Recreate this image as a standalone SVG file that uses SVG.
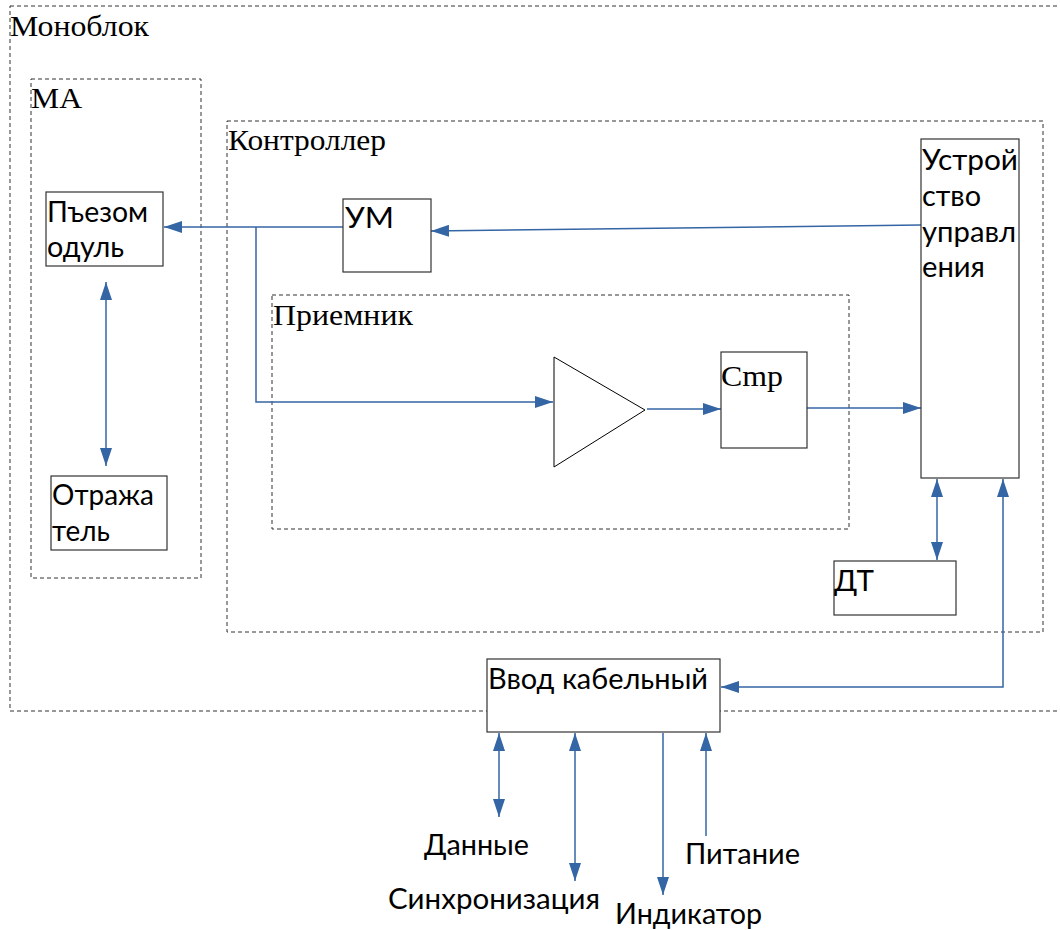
<svg xmlns="http://www.w3.org/2000/svg" width="1060" height="930" viewBox="0 0 1060 930">
<style>
.grp{fill:none;stroke:#333;stroke-width:1;stroke-dasharray:4,3}
.box{fill:#fff;stroke:#333;stroke-width:1.2}
.t{font-family:"Liberation Serif","DejaVu Serif",serif;font-size:30px;fill:#000}
.s{font-family:Lato,"Liberation Sans",sans-serif;font-size:28px;fill:#000}
.c{fill:none;stroke:#3465a4;stroke-width:1.5}
</style>
<defs>
<marker id="ah" viewBox="0 0 18 12" refX="18" refY="6" markerWidth="18" markerHeight="12" markerUnits="userSpaceOnUse" orient="auto-start-reverse">
<path d="M0,0 L18,6 L0,12 z" fill="#3465a4"/>
</marker>
</defs>
<rect width="1060" height="930" fill="#fff"/>
<g id="monoblok">
<rect class="grp" x="10" y="6" width="1060" height="705"/>
<text class="t" x="10" y="36" textLength="139" lengthAdjust="spacingAndGlyphs">Моноблок</text>
</g>
<g id="ma">
<rect class="grp" x="31" y="79" width="170" height="499"/>
<text class="t" x="31" y="108" textLength="51" lengthAdjust="spacingAndGlyphs">МА</text>
</g>
<g id="controller">
<rect class="grp" x="227" y="121" width="816" height="511"/>
<text class="t" x="228" y="150" textLength="158" lengthAdjust="spacingAndGlyphs">Контроллер</text>
</g>
<g id="receiver">
<rect class="grp" x="272" y="295" width="577" height="234"/>
<text class="t" x="273" y="325" textLength="140" lengthAdjust="spacingAndGlyphs">Приемник</text>
</g>
<g id="connectors">
<path class="c" d="M921,225 L431,231" marker-end="url(#ah)"/>
<path class="c" d="M343,227 H164" marker-end="url(#ah)"/>
<path class="c" d="M256,227 V402 H553" marker-end="url(#ah)"/>
<path class="c" d="M647,409 H721" marker-end="url(#ah)"/>
<path class="c" d="M807,408 H921" marker-end="url(#ah)"/>
<path class="c" d="M106,282 V466" marker-start="url(#ah)" marker-end="url(#ah)"/>
<path class="c" d="M937,479 V560" marker-start="url(#ah)" marker-end="url(#ah)"/>
<path class="c" d="M1003,479 V687 H721" marker-start="url(#ah)" marker-end="url(#ah)"/>
<path class="c" d="M499,733 V817" marker-start="url(#ah)" marker-end="url(#ah)"/>
<path class="c" d="M575,733 V881" marker-start="url(#ah)" marker-end="url(#ah)"/>
<path class="c" d="M663,733 V895" marker-end="url(#ah)"/>
<path class="c" d="M706,836 V733" marker-end="url(#ah)"/>
</g>
<g id="piezo">
<rect class="box" x="46" y="192" width="117" height="74"/>
<text class="s" x="47" y="222" textLength="101" lengthAdjust="spacingAndGlyphs">Пъезом</text>
<text class="s" x="47" y="257" textLength="77" lengthAdjust="spacingAndGlyphs">одуль</text>
</g>
<g id="reflector">
<rect class="box" x="51" y="476" width="116" height="74"/>
<text class="s" x="52" y="505" textLength="102" lengthAdjust="spacingAndGlyphs">Отража</text>
<text class="s" x="52" y="541" textLength="58" lengthAdjust="spacingAndGlyphs">тель</text>
</g>
<g id="um">
<rect class="box" x="343" y="199" width="88" height="73"/>
<text class="s" x="345" y="228" textLength="49" lengthAdjust="spacingAndGlyphs">УМ</text>
</g>
<g id="control-unit">
<rect class="box" x="921" y="139" width="98" height="339"/>
<text class="s" x="922" y="170" textLength="96" lengthAdjust="spacingAndGlyphs">Устрой</text>
<text class="s" x="922" y="206" textLength="59" lengthAdjust="spacingAndGlyphs">ство</text>
<text class="s" x="922" y="242" textLength="94" lengthAdjust="spacingAndGlyphs">управл</text>
<text class="s" x="922" y="277" textLength="63" lengthAdjust="spacingAndGlyphs">ения</text>
</g>
<g id="amplifier">
<path d="M554,357 L645,410 L554,467 Z" fill="#fff" stroke="#000" stroke-width="1"/>
</g>
<g id="cmp">
<rect class="box" x="721" y="352" width="86" height="96"/>
<text class="t" x="721" y="386" textLength="62" lengthAdjust="spacingAndGlyphs">Cmp</text>
</g>
<g id="dt">
<rect class="box" x="834" y="561" width="122" height="54"/>
<text class="s" x="834" y="591" textLength="40" lengthAdjust="spacingAndGlyphs">ДТ</text>
</g>
<g id="cable-input">
<rect class="box" x="487" y="659" width="233" height="73"/>
<text class="s" x="488" y="689" textLength="220" lengthAdjust="spacingAndGlyphs">Ввод кабельный</text>
</g>
<g id="labels">
<text class="s" x="424" y="855" textLength="105" lengthAdjust="spacingAndGlyphs">Данные</text>
<text class="s" x="388" y="909" textLength="212" lengthAdjust="spacingAndGlyphs">Синхронизация</text>
<text class="s" x="615" y="924" textLength="147" lengthAdjust="spacingAndGlyphs">Индикатор</text>
<text class="s" x="685" y="864" textLength="115" lengthAdjust="spacingAndGlyphs">Питание</text>
</g>
</svg>
